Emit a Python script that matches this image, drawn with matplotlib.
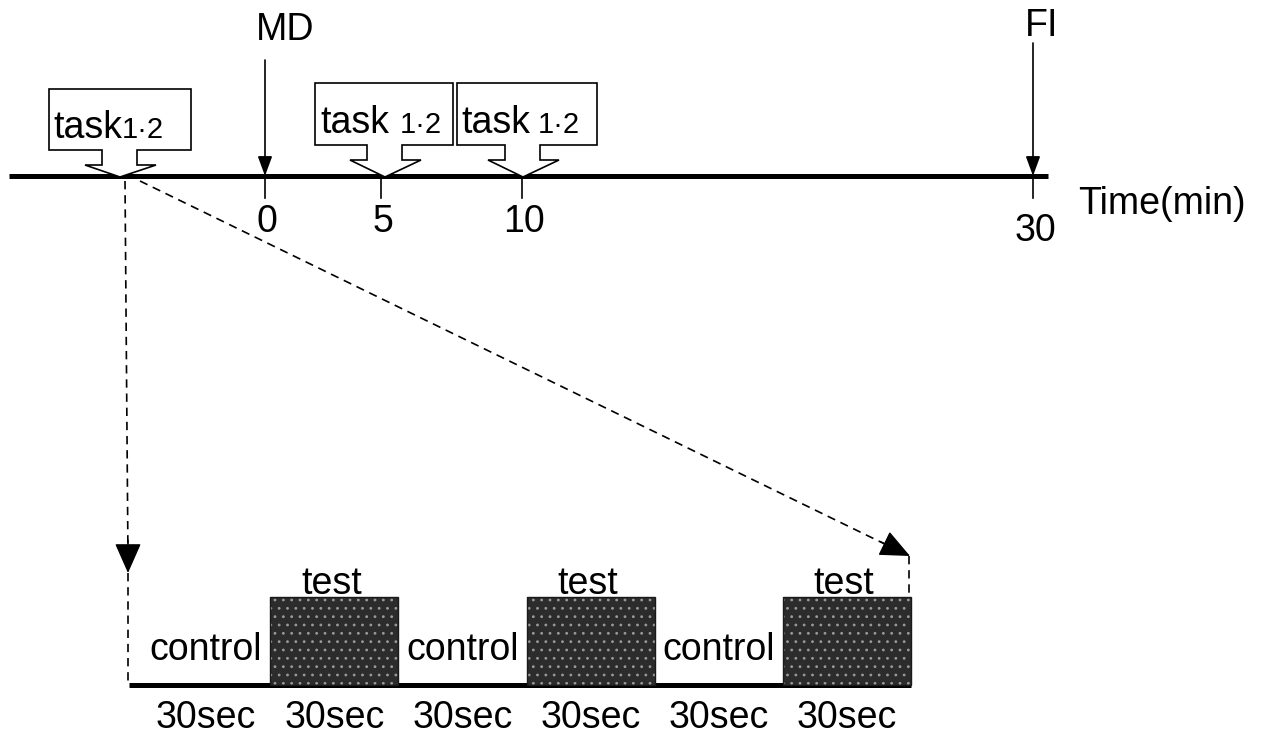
import matplotlib.pyplot as plt
import numpy as np

plt.rcParams['font.family'] = ['Liberation Sans', 'DejaVu Sans']
plt.rcParams['hatch.linewidth'] = 0.8

# Data
time_ticks = ["0", "5", "10", "30"]
time_unit = "Time(min)"
events = ["MD", "FI"]
task_main = "task"
task_sub = "1·2"
seg_labels = ["control", "test", "control", "test", "control", "test"]
seg_secs = [30, 30, 30, 30, 30, 30]

# Layout (pixel coordinates of the schematic)
line_y = 176
tick_x = [265, 381, 522, 1033]
tick_label_y = [204, 204, 204, 213]
event_x = [265, 1033]
event_text = [(285, 30), (1042, 26)]
# task callouts: tip x, box left, box right, box top, box bottom, text x (task, sub), baseline
callouts = [
    (120, 49, 191, 89, 150, 53, 122, 138),
    (385, 315, 453, 83, 145, 320, 400, 133),
    (523, 457, 597, 83, 145, 461, 538, 133),
]
x0_sec, px_per_sec = 142, 128.2 / 30
base_y, block_top = 685, 597

fig = plt.figure(figsize=(12.68, 7.4), dpi=100)
ax = fig.add_axes([0, 0, 1, 1])
ax.set_xlim(0, 1268)
ax.set_ylim(740, 0)
ax.axis('off')

FS = 27

# main timeline
ax.plot([9, 1048], [line_y, line_y], color='black', lw=3.6, solid_capstyle='butt', zorder=3)
for x, lab, ty in zip(tick_x, time_ticks, tick_label_y):
    ax.plot([x, x], [line_y, 198], color='black', lw=1.2)
    ax.text(x + 2, ty, lab, fontsize=FS, ha='center', va='top')
ax.text(1078, 204, time_unit, fontsize=FS, ha='left', va='center')

# MD / FI arrows
for x, lab, (tx, ty), y0 in zip(event_x, events, event_text, [60, 43]):
    ax.annotate('', xy=(x, line_y), xytext=(x, y0),
                arrowprops=dict(arrowstyle='-|>,head_length=0.6,head_width=0.22',
                                color='black', lw=1.2, mutation_scale=20,
                                shrinkA=0, shrinkB=0))
    ax.text(tx, ty, lab, fontsize=FS, ha='center', va='center')

# task callouts
for tip, L, R, T, B, tx1, tx2, bl in callouts:
    fy = B + 15
    pts = [(L, T), (R, T), (R, B), (tip + 17, B), (tip + 17, fy), (tip + 36, fy),
           (tip, line_y + 1), (tip - 35, fy), (tip - 18, fy), (tip - 18, B), (L, B)]
    ax.add_patch(plt.Polygon(pts, closed=True, facecolor='white', edgecolor='black',
                             lw=1.2, zorder=4))
    ax.text(tx1, bl, task_main, fontsize=FS, ha='left', va='baseline', zorder=5)
    ax.text(tx2, bl, task_sub, fontsize=21, ha='left', va='baseline', zorder=5)

# bottom block sequence
edges = x0_sec + px_per_sec * np.concatenate([[0], np.cumsum(seg_secs)])
ax.plot([129, edges[-1]], [base_y, base_y], color='black', lw=3.6, solid_capstyle='butt')
for i, lab in enumerate(seg_labels):
    left, w = edges[i], px_per_sec * seg_secs[i]
    cx = left + w / 2
    if lab == "test":
        ax.bar(left, block_top - base_y, bottom=base_y, width=w, align='edge',
               color='#2c2c2c', edgecolor='#9a9a9a', hatch='..', lw=0, zorder=2)
        ax.bar(left, block_top - base_y, bottom=base_y, width=w, align='edge',
               fill=False, edgecolor='#1a1a1a', lw=1.0, zorder=2)
        ax.text(cx - 3, 594, lab, fontsize=FS, ha='center', va='baseline')
    else:
        ax.text(cx, 660, lab, fontsize=FS, ha='center', va='baseline')
    ax.text(cx, 728, f"{seg_secs[i]}sec", fontsize=FS, ha='center', va='baseline')

# dashed zoom lines
dash = dict(color='black', lw=1.2, ls=(0, (5, 3.5)))
ax.plot([125, 128], [181, 560], **dash)
ax.plot([128, 128], [573, base_y], **dash)
ax.plot([140, 895], [181, 549], **dash)
ax.plot([909, 909], [556, block_top], **dash)
head = dict(arrowstyle='-|>,head_length=0.95,head_width=0.42', color='black',
            lw=1.0, mutation_scale=20, shrinkA=0, shrinkB=0)
ax.annotate('', xy=(128, 573), xytext=(128, 540), arrowprops=head)
d = np.array([770, 375]) / np.hypot(770, 375)
ax.annotate('', xy=(910, 556), xytext=tuple(np.array([910, 556]) - 33 * d), arrowprops=head)

fig.savefig('out.png', dpi=100)
